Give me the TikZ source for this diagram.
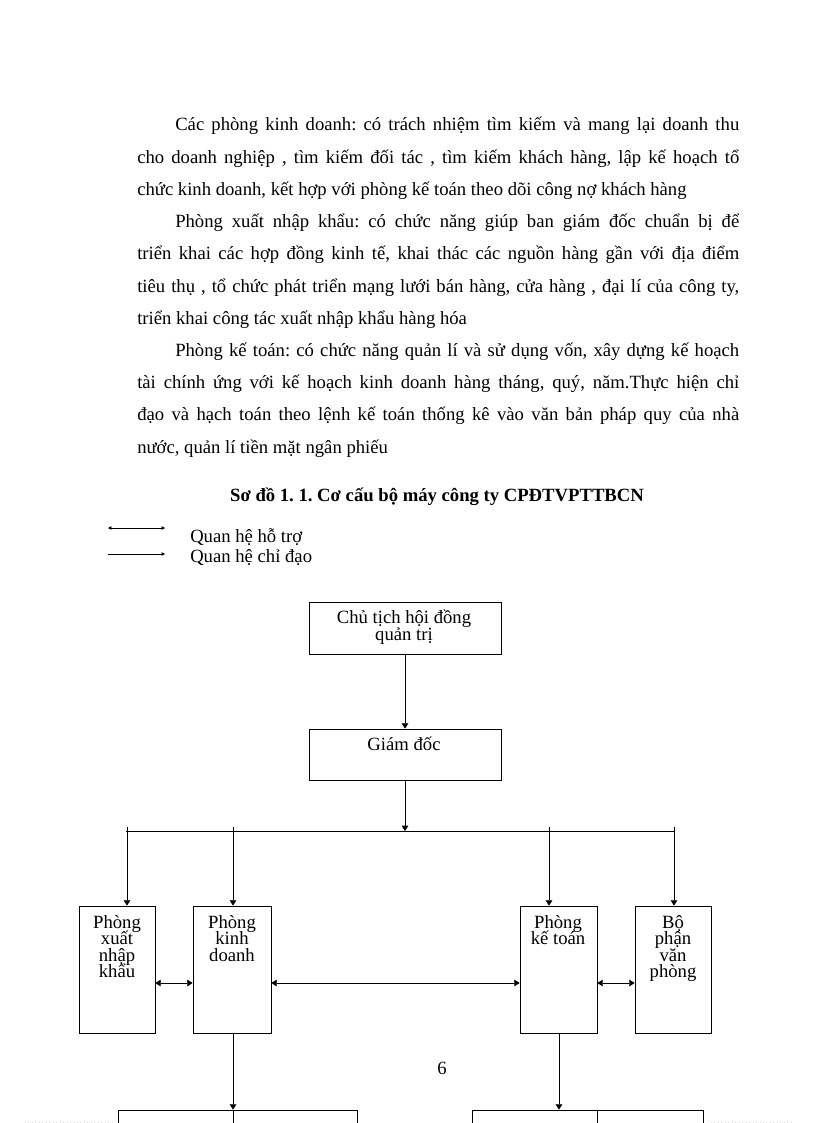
\documentclass[tikz,border=0pt]{standalone}
\usepackage{fontspec}
\setmainfont{Liberation Serif}
\usetikzlibrary{arrows.meta}
\frenchspacing
\begin{document}
\begin{tikzpicture}[x=0.75pt,y=-0.75pt,
  body/.style={font=\fontsize{14}{16}\selectfont, inner sep=0, anchor=base west},
  lbl/.style={font=\fontsize{14}{16}\selectfont, inner sep=0, anchor=base},
  box/.style={draw, line width=0.6pt, inner sep=0},
  ln/.style={line width=0.6pt},
  arr/.style={line width=0.6pt, -{Triangle[length=4pt,width=5pt]}},
  dbl/.style={line width=0.6pt, {Triangle[length=4pt,width=5pt]}-{Triangle[length=4pt,width=5pt]}},
  legarr/.style={line width=0.5pt, -{Triangle[length=2.5pt,width=2.5pt]}},
  legdbl/.style={line width=0.5pt, {Triangle[length=2.5pt,width=2.5pt]}-{Triangle[length=2.5pt,width=2.5pt]}}
]
\useasboundingbox (0,0) rectangle (816,1123);
\fill[white] (0,0) rectangle (816,1123);
\clip (0,0) rectangle (816,1123);

% ---------- body text ----------
\node[body] (t1) at (175,131) {\makebox[423pt][s]{Các phòng kinh doanh: có trách nhiệm tìm kiếm và mang lại doanh thu}};
\node[body] (t2) at (137,163.2) {\makebox[451.5pt][s]{cho doanh nghiệp , tìm kiếm đối tác , tìm kiếm khách hàng, lập kế hoạch tổ}};
\node[body] (t3) at (137,195.4) {chức kinh doanh, kết hợp với phòng kế toán theo dõi công nợ khách hàng};
\node[body] (t4) at (175,227.6) {\makebox[423pt][s]{Phòng xuất nhập khẩu: có chức năng giúp ban giám đốc chuẩn bị để}};
\node[body] (t5) at (137,259.8) {\makebox[451.5pt][s]{triển khai các hợp đồng kinh tế, khai thác các nguồn hàng gần với địa điểm}};
\node[body] (t6) at (137,292) {\makebox[451.5pt][s]{tiêu thụ , tổ chức phát triển mạng lưới bán hàng, cửa hàng , đại lí của công ty,}};
\node[body] (t7) at (137,324.2) {triển khai công tác xuất nhập khẩu hàng hóa};
\node[body] (t8) at (175,356.4) {\makebox[423pt][s]{Phòng kế toán: có chức năng quản lí và sử dụng vốn, xây dựng kế hoạch}};
\node[body] (t9) at (137,388.6) {\makebox[451.5pt][s]{tài chính ứng với kế hoạch kinh doanh hàng tháng, quý, năm.Thực hiện chỉ}};
\node[body] (t10) at (137,420.8) {\makebox[451.5pt][s]{đạo và hạch toán theo lệnh kế toán thống kê vào văn bản pháp quy của nhà}};
\node[body] (t11) at (137,453) {nước, quản lí tiền mặt ngân phiếu};

% ---------- title ----------
\node[lbl, font=\bfseries\fontsize{14}{16}\selectfont] (title) at (437,501) {Sơ đồ 1. 1. Cơ cấu bộ máy công ty CPĐTVPTTBCN};

% ---------- legend ----------
\coordinate (la1) at (108,528);
\coordinate (la2) at (165,528);
\coordinate (lb1) at (108,554);
\coordinate (lb2) at (165,554);
\draw[legdbl] (la1) -- (la2);
\draw[legarr] (lb1) -- (lb2);
\node[body] (leg1) at (190,542) {Quan hệ hỗ trợ};
\node[body] (leg2) at (190,562) {Quan hệ chỉ đạo};

% ---------- boxes ----------
\node[box, minimum width=144pt, minimum height=39pt] (cth) at (405,628) {};
\node[lbl] (cthA) at (404,623) {Chủ tịch hội đồng};
\node[lbl] (cthB) at (404,640) {quản trị};

\node[box, minimum width=144pt, minimum height=38.25pt] (gd) at (405,754.5) {};
\node[lbl] (gdA) at (404,750) {Giám đốc};

\node[box, minimum width=57pt, minimum height=95.25pt] (pxnk) at (117,969.5) {};
\node[box, minimum width=58.5pt, minimum height=95.25pt] (pkd) at (232,969.5) {};
\node[box, minimum width=57.75pt, minimum height=95.25pt] (pkt) at (558.5,969.5) {};
\node[box, minimum width=57pt, minimum height=95.25pt] (bpvp) at (673,969.5) {};

\node[lbl] (pxnkA) at (117,928) {Phòng};
\node[lbl] (pxnkB) at (117,944.5) {xuất};
\node[lbl] (pxnkC) at (117,961) {nhập};
\node[lbl] (pxnkD) at (117,977.5) {khẩu};

\node[lbl] (pkdA) at (232,928) {Phòng};
\node[lbl] (pkdB) at (232,944.5) {kinh};
\node[lbl] (pkdC) at (232,961) {doanh};

\node[lbl] (pktA) at (558,928) {Phòng};
\node[lbl] (pktB) at (558,944.5) {kế toán};

\node[lbl] (bpvpA) at (673,928) {Bộ};
\node[lbl] (bpvpB) at (673,944.5) {phận};
\node[lbl] (bpvpC) at (673,961) {văn};
\node[lbl] (bpvpD) at (673,977.5) {phòng};

\node[box, minimum width=179.25pt, minimum height=30pt] (bl) at (237.5,1130) {};
\node[box, minimum width=173.25pt, minimum height=30pt] (br) at (587.5,1130) {};
\coordinate (blm) at (233,1110);
\coordinate (brm) at (597,1110);
\draw[ln] (blm) -- (blm |- bl.south);
\draw[ln] (brm) -- (brm |- br.south);

% ---------- connectors ----------
\draw[arr] (cth.south) -- (gd.north);
\coordinate (bus1) at (126,831);
\coordinate (bus2) at (674,831);
\draw[ln] (bus1) -- (bus2);
\draw[arr] (gd.south) -- (gd.south |- bus1);

\coordinate (d1) at (127,827);
\coordinate (d2) at (233,827);
\coordinate (d3) at (549,827);
\coordinate (d4) at (674,827);
\draw[arr] (d1) -- (d1 |- pxnk.north);
\draw[arr] (d2) -- (d2 |- pkd.north);
\draw[arr] (d3) -- (d3 |- pkt.north);
\draw[arr] (d4) -- (d4 |- bpvp.north);

\coordinate (hy) at (0,983);
\draw[dbl] (pxnk.east |- hy) -- (pkd.west |- hy);
\draw[dbl] (pkd.east |- hy) -- (pkt.west |- hy);
\draw[dbl] (pkt.east |- hy) -- (bpvp.west |- hy);

\coordinate (kd) at (233,1033);
\coordinate (kt) at (559,1033);
\draw[arr] (kd) -- (kd |- bl.north);
\draw[arr] (kt) -- (kt |- br.north);

% ---------- page number ----------
\node[lbl] (pg) at (442,1074) {6};

% ---------- faint page-edge marks ----------
\coordinate (e1) at (25,1122);
\coordinate (e2) at (112,1122);
\coordinate (e3) at (711,1122);
\coordinate (e4) at (792,1122);
\draw[line width=0.6pt, dotted, black!15] (e1) -- (e2);
\draw[line width=0.6pt, dotted, black!15] (e3) -- (e4);
\end{tikzpicture}
\end{document}
